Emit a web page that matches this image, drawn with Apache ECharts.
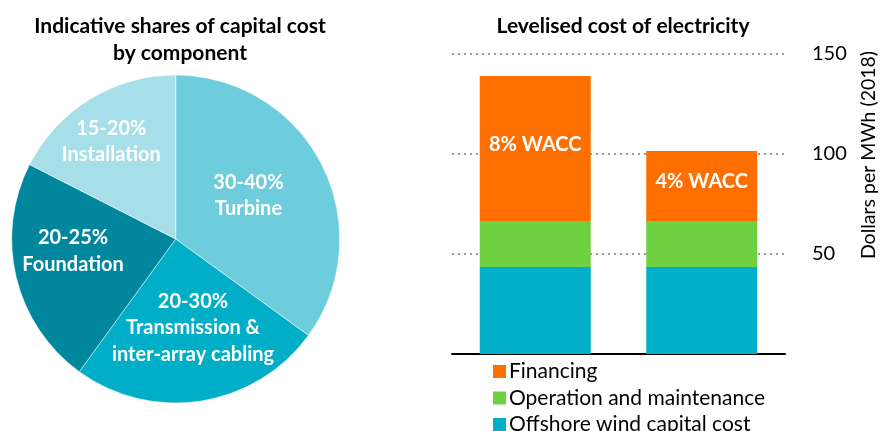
<!DOCTYPE html>
<html>
<head>
<meta charset="utf-8">
<script src="https://cdn.jsdelivr.net/npm/echarts@6/dist/echarts.min.js"></script>
<style>
  html, body { margin: 0; padding: 0; background: #fff; }
  #chart { width: 881px; height: 431px; }
</style>
</head>
<body>
<div id="chart"></div>
<script>
// pie: shares of capital cost (midpoints of the ranges)
const components = ['Turbine', 'Transmission &\ninter-array cabling', 'Foundation', 'Installation']
const shareRanges = ['30-40%', '20-30%', '20-25%', '15-20%']
const shareValues = [35, 25, 22.5, 17.5]
const pieColors = ['#6ecddd', '#00aec7', '#00879e', '#a7dfe9']

// bars: levelised cost, USD/MWh 2018
const scenarios = ['8% WACC', '4% WACC']
const capitalCost = [43.5, 43.5]
const operation = [23, 23]
const financing = [72.5, 35]
const yTicks = [0, 50, 100, 150]
const legendNames = ['Financing', 'Operation and maintenance', 'Offshore wind capital cost']

const font = 'Lato'
const chart = echarts.init(document.getElementById('chart'))

// small nudges for the inside pie labels
const labelNudge = [[-3, -5], [4, 5], [-20, -8], [-20, -25]]

// one legend per row so the last row is not wrapped into a new column
const legends = legendNames.map((n, i) => ({
  orient: 'vertical',
  left: 488, top: 356 + i * 26.5,
  itemWidth: 13, itemHeight: 13,
  icon: 'rect',
  selectedMode: false,
  data: [n],
  textStyle: { fontSize: 21, color: '#000', fontFamily: font, padding: [0, 0, 0, -2] }
}))

chart.setOption({
  animation: false,
  textStyle: { fontFamily: font },
  title: [
    {
      text: 'Indicative shares of capital cost\nby component',
      left: 175, top: 8, textAlign: 'center',
      textStyle: { fontSize: 21, fontWeight: 'bold', color: '#000', lineHeight: 27, fontFamily: font }
    },
    {
      text: 'Levelised cost of electricity',
      left: 618, top: 11, textAlign: 'center',
      textStyle: { fontSize: 21, fontWeight: 'bold', color: '#000', fontFamily: font }
    }
  ],
  legend: legends,
  grid: { left: 452, right: 96, top: 54, bottom: 77 },
  xAxis: {
    type: 'category',
    data: scenarios,
    axisLine: { lineStyle: { color: '#000', width: 2 } },
    axisTick: { show: false },
    axisLabel: { show: false }
  },
  yAxis: {
    type: 'value',
    position: 'right',
    min: yTicks[0], max: yTicks[yTicks.length - 1], interval: 50,
    axisLine: { show: false },
    axisTick: { show: false },
    axisLabel: {
      margin: 27, fontSize: 20, color: '#000', fontFamily: font,
      formatter: v => (v === 0 ? '' : v)
    },
    splitLine: { lineStyle: { color: '#999', width: 2, type: [2, 4] } }
  },
  graphic: [{
    type: 'text',
    x: 869, y: 155,
    rotation: Math.PI / 2,
    style: {
      text: 'Dollars per MWh (2018)',
      fontSize: 19.5, fontFamily: font, fill: '#000',
      align: 'center', verticalAlign: 'middle'
    }
  }],
  series: [
    {
      type: 'pie',
      center: [175.7, 239],
      radius: 164,
      startAngle: 90,
      clockwise: true,
      silent: true,
      itemStyle: { borderColor: '#fff', borderWidth: 0.5 },
      label: {
        position: 'inside',
        color: '#fff',
        fontSize: 20,
        fontWeight: 'bold',
        lineHeight: 26.5,
        fontFamily: font,
        formatter: p => shareRanges[p.dataIndex] + '\n' + p.name
      },
      labelLayout: p => ({ dx: labelNudge[p.dataIndex][0], dy: labelNudge[p.dataIndex][1] }),
      data: components.map((c, i) => ({
        name: c, value: shareValues[i], itemStyle: { color: pieColors[i] }
      }))
    },
    {
      name: 'Offshore wind capital cost', type: 'bar', stack: 'lcoe',
      barWidth: 111, data: capitalCost, itemStyle: { color: '#00aec7' }
    },
    {
      name: 'Operation and maintenance', type: 'bar', stack: 'lcoe',
      data: operation, itemStyle: { color: '#6fd141' }
    },
    {
      name: 'Financing', type: 'bar', stack: 'lcoe',
      data: financing, itemStyle: { color: '#ff6f00' },
      label: {
        show: true, position: 'inside', offset: [0, -4],
        color: '#fff', fontSize: 20, fontWeight: 'bold', fontFamily: font,
        formatter: p => scenarios[p.dataIndex]
      }
    }
  ]
})
</script>
</body>
</html>
